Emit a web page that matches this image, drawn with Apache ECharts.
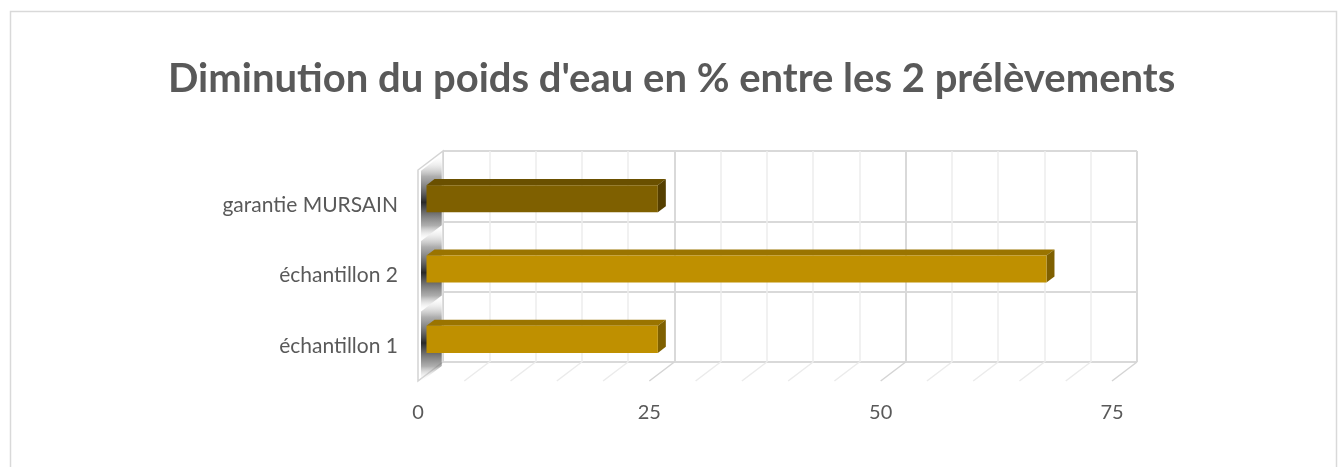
<!DOCTYPE html>
<html>
<head>
<meta charset="utf-8">
<script src="https://cdn.jsdelivr.net/npm/echarts@6/dist/echarts.min.js"></script>
<style>
html, body { margin: 0; padding: 0; background: #fff; }
#chart { width: 1343px; height: 467px; }
</style>
</head>
<body>
<div id="chart"></div>
<script>
// données
const categories = ['échantillon 1', 'échantillon 2', 'garantie MURSAIN'];
const values = [25, 67, 25];
const xTicks = [0, 25, 50, 75];

// couleurs des barres (face, dessus, côté)
const goldLight = ['#bf9000', '#9a7400', '#7f6000'];
const goldDark = ['#7f6000', '#6a5000', '#553f00'];

// vecteur de profondeur 3D (du mur du fond vers l'avant)
const DX = -25, DY = 19;

document.addEventListener('DOMContentLoaded', function() {
    const myChart = echarts.init(document.getElementById('chart'));
    const xMin = xTicks[0], xMax = xTicks[xTicks.length - 1];
    const step = xTicks[1] - xTicks[0];

    // murs et sol
    function renderFrame(params, api) {
        const cs = params.coordSys;
        const left = cs.x, top = cs.y, bottom = cs.y + cs.height;
        const children = [];
        children.push({
            type: 'polygon',
            shape: { points: [[left, top], [left, bottom], [left + DX, bottom + DY], [left + DX, top + DY]] },
            style: { fill: '#fff', stroke: '#d4d4d4', lineWidth: 1.5 }
        });
        // ombres des barres sur le mur gauche
        const band = api.size([0, 1])[1];
        for (let i = 0; i < categories.length; i++) {
            const c = api.coord([xMin, i]);
            const h = band * 0.5;
            const t0 = 0.05, t1 = 0.88;
            const cy = c[1] + 3;
            children.push({
                type: 'polygon',
                shape: { points: [
                    [c[0] + DX * t0, cy + DY * t0 - h],
                    [c[0] + DX * t0, cy + DY * t0 + h],
                    [c[0] + DX * t1, cy + DY * t1 + h],
                    [c[0] + DX * t1, cy + DY * t1 - h]
                ] },
                style: {
                    fill: new echarts.graphic.LinearGradient(0, 0, 0, 1, [
                        { offset: 0, color: 'rgba(255,255,255,0)' },
                        { offset: 0.25, color: 'rgba(120,120,120,0.6)' },
                        { offset: 0.55, color: 'rgba(30,30,30,0.95)' },
                        { offset: 0.82, color: 'rgba(120,120,120,0.6)' },
                        { offset: 1, color: 'rgba(255,255,255,0)' }
                    ])
                }
            });
        }
        // lignes du sol
        for (let v = xMin + 5; v <= xMax; v += 5) {
            const p = api.coord([v, 0]);
            const major = (v - xMin) % step === 0;
            children.push({
                type: 'line',
                shape: { x1: p[0], y1: bottom, x2: p[0] + DX, y2: bottom + DY },
                style: { stroke: major ? '#d4d4d4' : '#ebebeb', lineWidth: 1.5 }
            });
        }
        return { type: 'group', children: children };
    }

    // barres 3D
    function renderBar(params, api) {
        const i = api.value(0);
        const v = api.value(1);
        const a = api.coord([xMin, i]);
        const b = api.coord([v, i]);
        const band = api.size([0, 1])[1];
        const h = band * 0.385;
        const tf = 0.66, tb = 0.34;
        const fx = DX * tf, fy = DY * tf;
        const ox = DX * (tb - tf), oy = DY * (tb - tf);
        const x0 = a[0] + fx, x1 = b[0] + fx;
        const yt = a[1] + fy - h / 2, yb = a[1] + fy + h / 2;
        const col = i === categories.length - 1 ? goldDark : goldLight;
        return {
            type: 'group',
            children: [
                {
                    type: 'polygon',
                    shape: { points: [[x0, yt], [x1, yt], [x1 + ox, yt + oy], [x0 + ox, yt + oy]] },
                    style: { fill: col[1] }
                },
                {
                    type: 'polygon',
                    shape: { points: [[x1, yt], [x1 + ox, yt + oy], [x1 + ox, yb + oy], [x1, yb]] },
                    style: { fill: col[2] }
                },
                {
                    type: 'rect',
                    shape: { x: x0, y: yt, width: x1 - x0, height: yb - yt },
                    style: { fill: col[0] }
                }
            ]
        };
    }

    const labelColor = '#595959';
    const option = {
        animation: false,
        backgroundColor: '#fff',
        title: {
            text: "Diminution du poids d'eau en % entre les 2 prélèvements",
            left: 163,
            top: 54,
            textStyle: {
                fontFamily: 'Lato',
                fontSize: 40,
                fontWeight: 'bold',
                color: labelColor
            }
        },
        graphic: [{
            type: 'rect',
            left: 8, top: 9,
            shape: { width: 1326, height: 520 },
            style: { fill: 'none', stroke: '#d9d9d9', lineWidth: 1.5 },
            silent: true
        }],
        grid: [
            { left: 443, right: 206, top: 151, bottom: 105 },
            { left: 418, right: 231, top: 170, bottom: 86 }
        ],
        xAxis: [
            {
                type: 'value', gridIndex: 0,
                min: xMin, max: xMax, interval: step,
                axisLine: { show: false },
                axisTick: { show: false },
                axisLabel: { show: false },
                splitLine: { show: true, lineStyle: { color: '#d9d9d9', width: 2 } },
                minorTick: { show: false, splitNumber: 5 },
                minorSplitLine: { show: true, lineStyle: { color: '#ededed', width: 1.5 } }
            },
            {
                type: 'value', gridIndex: 1,
                min: xMin, max: xMax, interval: step,
                axisLine: { show: false },
                axisTick: { show: false },
                splitLine: { show: false },
                axisLabel: {
                    color: labelColor,
                    fontFamily: 'Lato',
                    fontSize: 20,
                    margin: 22
                }
            }
        ],
        yAxis: [
            {
                type: 'category', gridIndex: 0,
                data: categories,
                axisLine: { show: false },
                axisTick: { show: false },
                axisLabel: { show: false },
                splitLine: { show: true, lineStyle: { color: '#d9d9d9', width: 2 } }
            },
            {
                type: 'category', gridIndex: 1,
                data: categories,
                axisLine: { show: false },
                axisTick: { show: false },
                splitLine: { show: false },
                axisLabel: {
                    color: labelColor,
                    fontFamily: 'Lato',
                    fontSize: 21,
                    margin: 20
                }
            }
        ],
        series: [
            {
                type: 'custom',
                xAxisIndex: 0, yAxisIndex: 0,
                renderItem: renderFrame,
                data: [[0, 0]],
                encode: { x: 1, y: 0 },
                z: 1,
                silent: true
            },
            {
                type: 'custom',
                name: 'Diminution',
                xAxisIndex: 0, yAxisIndex: 0,
                renderItem: renderBar,
                data: values.map(function(v, i) { return [i, v]; }),
                encode: { x: 1, y: 0 },
                z: 3
            }
        ]
    };
    myChart.setOption(option);
});
</script>
</body>
</html>
